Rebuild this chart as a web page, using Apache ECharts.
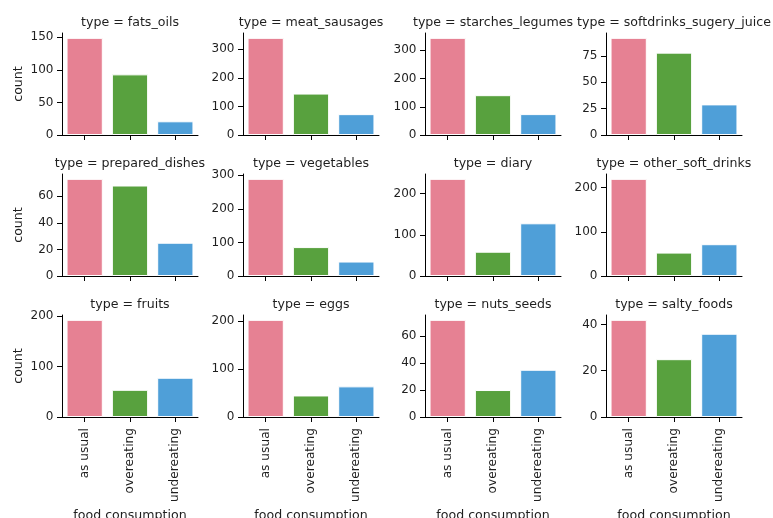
<!DOCTYPE html>
<html>
<head>
<meta charset="utf-8">
<script src="https://cdn.jsdelivr.net/npm/echarts@6/dist/echarts.min.js"></script>
<style>html,body{margin:0;padding:0;background:#fff}#c{width:773px;height:518px}</style>
</head>
<body>
<div id="c"></div>
<script>
const categories = ['as usual', 'overeating', 'undereating'];
const panelTypes = ['fats_oils', 'meat_sausages', 'starches_legumes', 'softdrinks_sugery_juice',
  'prepared_dishes', 'vegetables', 'diary', 'other_soft_drinks',
  'fruits', 'eggs', 'nuts_seeds', 'salty_foods'];
const fats_oils = [149, 93, 21];
const meat_sausages = [340, 145, 73];
const starches_legumes = [344, 141, 74];
const softdrinks_sugery_juice = [92, 78, 29];
const prepared_dishes = [73, 68, 25];
const vegetables = [289, 86, 43];
const diary = [236, 59, 128];
const other_soft_drinks = [220, 53, 72];
const fruits = [193, 54, 78];
const eggs = [203, 45, 64];
const nuts_seeds = [72, 20, 35];
const salty_foods = [42, 25, 36];
const panelValues = [fats_oils, meat_sausages, starches_legumes, softdrinks_sugery_juice,
  prepared_dishes, vegetables, diary, other_soft_drinks,
  fruits, eggs, nuts_seeds, salty_foods];
const tickSteps = [50, 100, 100, 25, 20, 100, 100, 100, 100, 100, 20, 20];

const colors = ['#e68193', '#58a13e', '#4f9fd8'];
const colLeft = [62, 243, 425, 606];
const rowTop = [33, 174, 315];
const gw = 136, gh = 102;
const font = 'DejaVu Sans';
const txt = '#1f1f1f';

const grids = [], xAxes = [], yAxes = [], series = [], graphics = [];
panelValues.forEach((vals, i) => {
  const r = Math.floor(i / 4), c = i % 4;
  grids.push({left: colLeft[c], top: rowTop[r], width: gw, height: gh, containLabel: false, outerBoundsMode: 'none'});
  const bottomRow = r === 2;
  xAxes.push({
    type: 'category', gridIndex: i, data: categories,
    axisLine: {lineStyle: {color: '#000', width: 1}},
    axisTick: {show: true, alignWithLabel: true, length: 5, lineStyle: {color: '#000'}},
    axisLabel: {show: bottomRow, rotate: 90, margin: 11, fontFamily: font, fontSize: 12.2, color: txt},
    name: bottomRow ? 'food consumption' : '', nameLocation: 'middle', nameGap: 92,
    nameTextStyle: {fontFamily: font, fontSize: 12.6, color: txt}
  });
  const maxV = Math.max(...vals) * 1.05;
  const step = tickSteps[i];
  const ticks = [];
  for (let t = 0; t <= maxV; t += step) ticks.push(t);
  yAxes.push({
    type: 'value', gridIndex: i, min: 0, max: maxV,
    splitLine: {show: false},
    axisLine: {show: true, lineStyle: {color: '#000', width: 1}},
    axisTick: {show: true, length: 5, lineStyle: {color: '#000'}, customValues: ticks},
    axisLabel: {fontFamily: font, fontSize: 12, color: txt, margin: 8.5, customValues: ticks},
    name: c === 0 ? 'count' : '', nameLocation: 'middle', nameGap: 37,
    nameTextStyle: {fontFamily: font, fontSize: 12.6, color: txt}
  });
  series.push({
    type: 'bar', xAxisIndex: i, yAxisIndex: i, data: vals,
    colorBy: 'data', barCategoryGap: '20%',
    itemStyle: {borderColor: '#fff', borderWidth: 1},
    silent: true, animation: false
  });
  graphics.push({
    type: 'text', x: colLeft[c] + gw / 2, y: rowTop[r] - 4,
    style: {text: 'type = ' + panelTypes[i], fontFamily: font, fontSize: 12.6, fill: txt,
      textAlign: 'center', textVerticalAlign: 'bottom'}
  });
});

const chart = echarts.init(document.getElementById('c'), null, {renderer: 'canvas'});
chart.setOption({
  animation: false,
  color: colors,
  grid: grids, xAxis: xAxes, yAxis: yAxes, series: series,
  graphic: graphics
});
</script>
</body>
</html>
